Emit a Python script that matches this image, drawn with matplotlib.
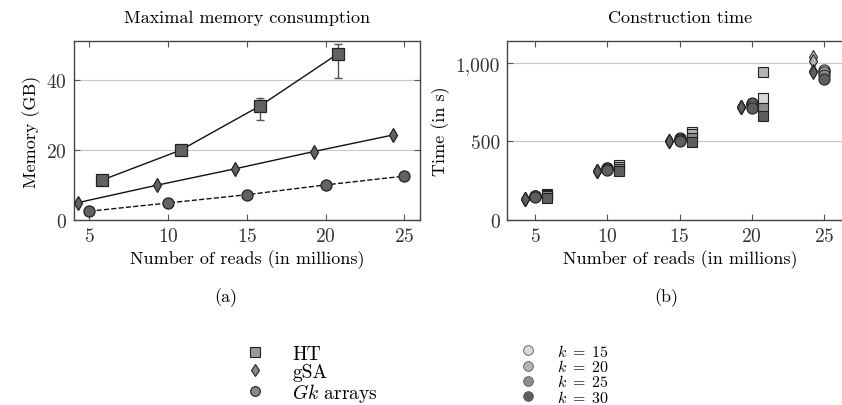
import numpy as np
import matplotlib
matplotlib.use("Agg")
import matplotlib.pyplot as plt
from matplotlib.lines import Line2D

plt.rcParams['font.family'] = ['cmr10', 'DejaVu Serif']
plt.rcParams['mathtext.fontset'] = 'cm'
plt.rcParams['axes.formatter.use_mathtext'] = True

#################################################################
#  DATA
#################################################################
# read counts (millions) as placed on the x axis
reads_ht = [5.83, 10.8, 15.84, 20.8]
reads_gsa = [4.28, 9.28, 14.27, 19.25, 24.26]
reads_gk = [5, 10, 15, 20, 25]

# (a) maximal memory (GB)
mem_ht = [11.4, 19.9, 32.5, 47.4]
mem_ht_low = [11.4, 19.9, 28.5, 40.4]
mem_ht_high = [11.4, 19.9, 34.8, 50.2]
mem_gsa = [4.95, 9.9, 14.6, 19.5, 24.2]
mem_gk = [2.5, 4.85, 7.2, 10.0, 12.5]

# (b) construction time (s), one list per k
k_values = [15, 20, 25, 30]
time_ht = {15: [165, 350, 560, 775],
           20: [160, 340, 545, 940],
           25: [150, 325, 520, 715],
           30: [140, 310, 495, 660]}
time_gsa = {15: [136, 314, 506, 720, 1040],
            20: [136, 314, 506, 720, 1015],
            25: [136, 314, 506, 720, 948],
            30: [136, 314, 506, 720, 940]}
time_gk = {15: [152, 332, 522, 748, 958],
           20: [150, 328, 515, 740, 942],
           25: [150, 322, 510, 725, 922],
           30: [148, 318, 505, 712, 900]}
k_colors = {15: '#d9d9d9', 20: '#b4b4b4', 25: '#8c8c8c', 30: '#5e5e5e'}

#################################################################
#  FIGURE
#################################################################
fig = plt.figure(figsize=(8.42, 4.06), dpi=100)
W, H = 842.0, 406.0
ax1 = fig.add_axes([74 / W, 1 - 221 / H, 346 / W, 179 / H])
ax2 = fig.add_axes([507 / W, 1 - 221 / H, 346 / W, 179 / H])

edge = '#222222'
fill = '#626262'

# --- (a) memory ---
yerr = [np.array(mem_ht) - np.array(mem_ht_low),
        np.array(mem_ht_high) - np.array(mem_ht)]
ax1.errorbar(reads_ht, mem_ht, yerr=yerr, fmt='none', ecolor='#555555',
             elinewidth=1.0, capsize=3, zorder=2)
ax1.plot(reads_ht, mem_ht, '-', color='#111111', lw=1.0, marker='s', ms=8.5,
         mfc=fill, mec=edge, mew=0.9, zorder=3)
ax1.plot(reads_gsa, mem_gsa, '-', color='#111111', lw=1.0, marker='d', ms=7,
         mfc=fill, mec=edge, mew=0.9, zorder=3)
ax1.plot(reads_gk, mem_gk, '--', color='#111111', lw=1.0, marker='o', ms=8,
         mfc=fill, mec=edge, mew=0.9, zorder=3)
ax1.set_xlim(4.03, 26.0)
ax1.set_ylim(0, 51)
ax1.set_xticks([5, 10, 15, 20, 25])
ax1.set_yticks([0, 20, 40])
ax1.set_xlabel('Number of reads (in millions)', fontsize=13, labelpad=3)
ax1.set_ylabel('Memory (GB)', fontsize=13)
ax1.set_title('Maximal memory consumption', fontsize=13, pad=14)

# --- (b) time ---
for k in k_values:
    c = k_colors[k]
    ax2.plot(reads_gsa, time_gsa[k], 'd', ms=7, mfc=c, mec=edge, mew=0.8, zorder=3)
    ax2.plot(reads_gk, time_gk[k], 'o', ms=8, mfc=c, mec=edge, mew=0.8, zorder=3)
    ax2.plot(reads_ht, time_ht[k], 's', ms=7.5, mfc=c, mec=edge, mew=0.8, zorder=3)
ax2.set_xlim(3.06, 27.0)
ax2.set_ylim(0, 1140)
ax2.set_xticks([5, 10, 15, 20, 25])
ax2.set_yticks([0, 500, 1000])
ax2.set_yticklabels(['0', '500', '1,000'])
ax2.set_xlabel('Number of reads (in millions)', fontsize=13, labelpad=3)
ax2.set_ylabel('Time (in s)', fontsize=13)
ax2.set_title('Construction time', fontsize=13, pad=14)

for ax in (ax1, ax2):
    ax.grid(axis='y', color='#c8c8c8', lw=0.8)
    ax.set_axisbelow(True)
    ax.tick_params(direction='in', top=True, right=True, length=4,
                   color='#555555', labelsize=14, labelcolor='#333333', pad=5)
    for s in ax.spines.values():
        s.set_color('#444444')
        s.set_linewidth(1.0)

fig.text(226 / W, 1 - 298 / H, '(a)', ha='center', va='center', fontsize=13)
fig.text(666 / W, 1 - 298 / H, '(b)', ha='center', va='center', fontsize=13)

# --- legends ---
h_method = [Line2D([], [], ls='none', marker='s', ms=7, mfc='#999999', mec=edge, mew=0.8),
            Line2D([], [], ls='none', marker='d', ms=6, mfc='#888888', mec=edge, mew=0.8),
            Line2D([], [], ls='none', marker='o', ms=7, mfc='#888888', mec=edge, mew=0.8)]
fig.legend(h_method, ['HT', 'gSA', r'$Gk$ arrays'], loc='upper left',
           bbox_to_anchor=(236 / W, 1 - 336 / H), frameon=False, fontsize=14,
           handlelength=1.0, handletextpad=1.4, labelspacing=0.0, borderpad=0)

h_k = [Line2D([], [], ls='none', marker='o', ms=7, mfc=k_colors[k], mec='#555555', mew=0.6)
       for k in k_values]
fig.legend(h_k, ['$k\\;=\\;%d$' % k for k in k_values], loc='upper left',
           bbox_to_anchor=(512 / W, 1 - 336 / H), frameon=False, fontsize=11.5,
           handlelength=1.0, handletextpad=1.3, labelspacing=-0.05, borderpad=0)

fig.savefig('out.png', dpi=100)
